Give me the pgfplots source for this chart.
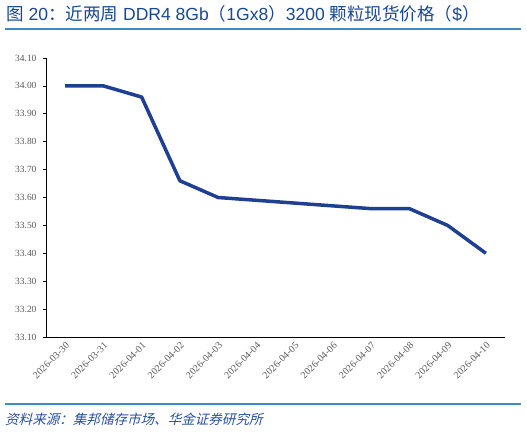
\documentclass[border=0pt]{standalone}
\usepackage{pgfplots}
\pgfplotsset{compat=1.18}
\usepackage{fontspec}
\setmainfont{Liberation Serif}
\newfontfamily\titlefont{Liberation Sans}
\newfontfamily\cjk{Noto Sans CJK SC}
\newfontfamily\cjkit[FakeSlant=0.25]{Noto Sans CJK SC}
\definecolor{titleblue}{RGB}{24,72,148}
\definecolor{lineblue}{RGB}{60,140,205}
\definecolor{serieblue}{RGB}{31,64,146}
\definecolor{srcblue}{RGB}{40,80,160}
\definecolor{ticktext}{RGB}{90,90,90}
\begin{document}
\begin{tikzpicture}[x=1bp,y=1bp]
\path[use as bounding box] (0,0) rectangle (527,432);
\node[anchor=west,inner sep=0pt,text=titleblue] at (6,418) {\fontsize{17.6}{19}\selectfont{\cjk 图}{\titlefont{} 20}{\cjk ：近两周}{\titlefont{} DDR4 8Gb}{\cjk （}{\titlefont 1Gx8}{\cjk ）}{\titlefont 3200 }{\cjk 颗粒现货价格（}{\titlefont\$}{\cjk ）}};
\draw[lineblue,line width=1.2bp] (5,403) -- (521,403);
\draw[lineblue,line width=1.2bp] (5,28) -- (521,28);
\node[anchor=west,inner sep=0pt,text=srcblue] at (5,13) {\cjkit\fontsize{13.6}{15}\selectfont 资料来源：集邦储存市场、华金证券研究所};
\begin{axis}[
  at={(46bp,95bp)}, anchor=south west,
  scale only axis, width=459bp, height=279bp,
  xmin=-0.5, xmax=11.5, ymin=33.1, ymax=34.1,
  axis x line*=bottom, axis y line*=left,
  axis line style={black, line width=0.8pt},
  xtick={0,...,11},
  xticklabels={2026-03-30,2026-03-31,2026-04-01,2026-04-02,2026-04-03,2026-04-04,2026-04-05,2026-04-06,2026-04-07,2026-04-08,2026-04-09,2026-04-10},
  x tick label style={rotate=45, anchor=north east, font=\fontsize{10}{11}\selectfont, text=ticktext, inner sep=1pt},
  ytick={33.1,33.2,...,34.1},
  y tick label style={font=\fontsize{9.5}{10}\selectfont, text=ticktext},
  yticklabel={\pgfmathprintnumber[fixed,fixed zerofill,precision=2]{\tick}},
  /pgf/number format/assume math mode=true,
  major tick length=3bp,
  xtick style={draw=none},
  ytick style={black, line width=0.6pt},
  tick align=outside,
  yticklabel style={xshift=-3bp},
  clip=false,
]
\addplot[serieblue, line width=3.5bp, line join=round] coordinates {
(0,34.00) (1,34.00) (2,33.96) (3,33.66) (4,33.60) (5,33.59) (6,33.58) (7,33.57) (8,33.56) (9,33.56) (10,33.50) (11,33.40)
};
\end{axis}
\end{tikzpicture}
\end{document}
